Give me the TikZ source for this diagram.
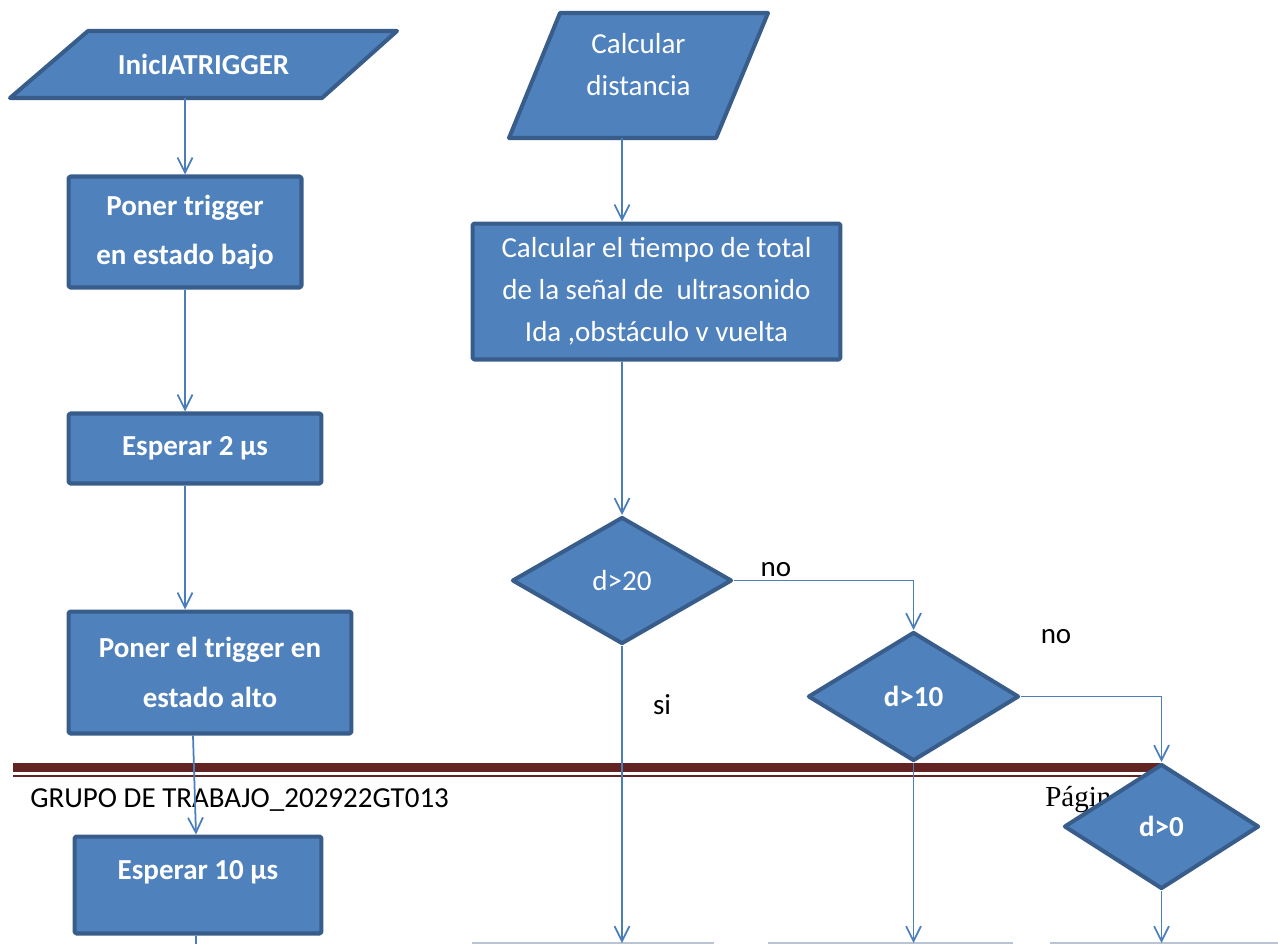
\documentclass[tikz,border=0pt]{standalone}
\usepackage{fontspec}
\setmainfont{Carlito}
\newfontfamily\piefont{Liberation Serif}
\usepackage{tikz}
\usetikzlibrary{arrows.meta, calc, positioning, shapes.geometric}
\usepackage{xcolor}
\definecolor{fBlue}{HTML}{4F81BD}
\definecolor{fEdge}{HTML}{385D8A}
\definecolor{fLine}{HTML}{4A7EBB}
\definecolor{fRed}{HTML}{622423}
\definecolor{fGrey}{HTML}{B9C5D5}

\begin{document}
\begin{tikzpicture}[x=0.02cm, y=-0.02cm, >={Straight Barb[length=8.5pt, width=8.5pt]},
  forma/.style={fill=fBlue, draw=fEdge, line width=2.3pt, line join=round},
  caja/.style={forma, rectangle, rounded corners=1pt, text=white, align=center, inner sep=0pt},
  rombo/.style={forma, diamond, text=white, inner sep=0pt},
  negrita/.style={font=\bfseries\fontsize{16.5}{28}\selectfont},
  normal/.style={font=\fontsize{16.5}{24}\selectfont},
  conn/.style={fLine, line width=1pt},
  etiqueta/.style={font=\fontsize{16.5}{24}\selectfont, inner sep=0pt}]
  \useasboundingbox (0,0) rectangle (1278,944);
  % footer
  \fill[fRed] (13,763) rectangle (1160,772);
  \fill[fRed] (13,775) rectangle (1160,777);
  \node[etiqueta, anchor=west] (grupo) at (30,800) {GRUPO DE TRABAJO\_202922GT013};
  \node[etiqueta, anchor=west, font=\piefont\fontsize{16.5}{24}\selectfont] (pagina) at (1045,800) {Págin};
  % tops of the next boxes
  \draw[fGrey, line width=1.1pt] (472,943) -- (714,943);
  \draw[fGrey, line width=1.1pt] (768,943) -- (1013,943);
  \draw[fGrey, line width=1.1pt] (1050,943) -- (1278,943);
  \coordinate (fin0) at (196,944);
  \coordinate (fin1) at (622,943);
  \coordinate (fin2) at (913.5,943);
  \coordinate (fin3) at (1161.5,943);
  % left column
  \draw[forma] (10,98) -- (88,31) -- (397,31) -- (322,98) -- cycle;
  \node[negrita, text=white, minimum height=1.34cm, inner sep=0pt] (inicia) at (203.5,64.5) {InicIATRIGGER};
  \node[caja, negrita, minimum width=4.66cm, minimum height=2.22cm] (bajo) at (185,232) {Poner trigger\\en estado bajo};
  \node[caja, negrita, minimum width=5.06cm, minimum height=1.4cm] (espera2) at (195,448.5) {Esperar 2 µs};
  \node[caja, negrita, minimum width=5.66cm, minimum height=2.44cm] (alto) at (210,672.5) {Poner el trigger en\\estado alto};
  \node[caja, minimum width=4.94cm, minimum height=1.94cm,
        label={[negrita, text=white, yshift=7.4pt]center:Esperar 10 µs}] (espera10) at (198,885) {};
  % right column
  \draw[forma] (509,138) -- (560,13) -- (768,13) -- (716,138) -- cycle;
  \node[minimum height=2.5cm, inner sep=0pt,
        label={[normal, text=white, align=center, yshift=6.3pt]center:Calcular\\distancia}] (calc) at (638.5,75.5) {};
  \node[caja, normal, minimum width=7.36cm, minimum height=2.72cm] (tiempo) at (656.5,291.5)
    {Calcular el tiempo de total\\de la señal de\ \ ultrasonido\\Ida ,obstáculo v vuelta};
  \node[rombo, normal, minimum width=4.4cm, minimum height=2.54cm] (d20) at (622,580.5) {d>20};
  \node[rombo, negrita, minimum width=4.22cm, minimum height=2.58cm] (d10) at (913.5,696.5) {d>10};
  \node[etiqueta] (no1) at (776,570) {no};
  \node[etiqueta] (no2) at (1056,637) {no};
  \node[etiqueta] (si) at (662,705) {si};
  % connectors
  \draw[conn, ->] (inicia.south -| bajo.north) -- (bajo.north);
  \draw[conn, ->] (bajo.south) -- (bajo.south |- espera2.north);
  \draw[conn, ->] (espera2.south -| bajo.south) -- (alto.north -| bajo.south);
  \draw[conn, ->] ($(alto.south)+(-17,0)$) -- ($(espera10.north)+(-2,0)$);
  \draw[conn] (espera10.south -| fin0) -- (fin0);
  \draw[conn, ->] (calc.south -| d20.north) -- (tiempo.north -| d20.north);
  \draw[conn, ->] (tiempo.south -| d20.north) -- (d20.north);
  \draw[conn, ->] (d20.east) -| (d10.north);
  \draw[conn, ->] (d20.south) -- (fin1);
  \draw[conn, ->] (d10.south) -- (fin2);
  % last decision, drawn over the footer
  \node[rombo, negrita, minimum width=3.9cm, minimum height=2.5cm] (d0) at (1161.5,826.5) {d>0};
  \draw[conn, ->] (d10.east) -| (d0.north);
  \draw[conn, ->] (d0.south) -- (fin3);
\end{tikzpicture}
\end{document}
